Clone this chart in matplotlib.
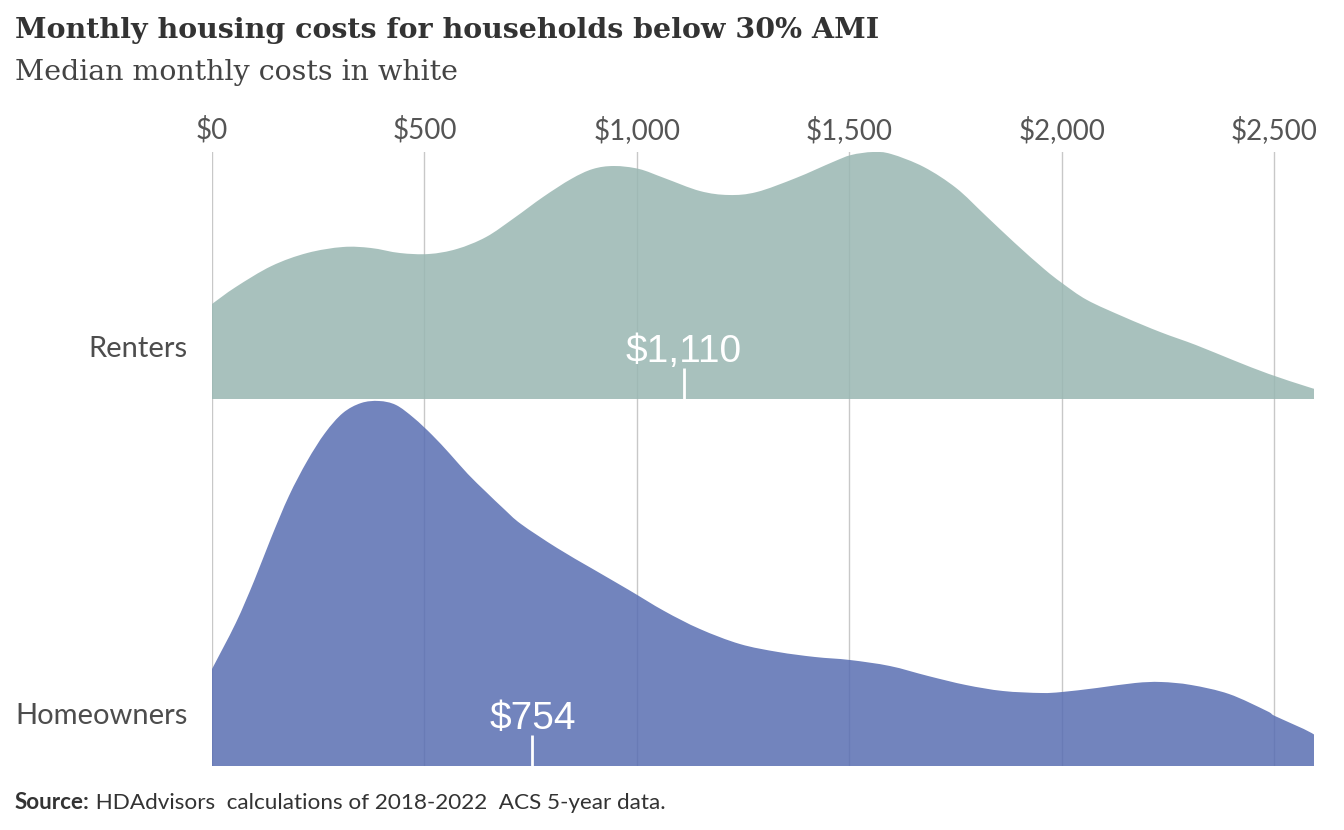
import numpy as np
import matplotlib
matplotlib.use('Agg')
import matplotlib.pyplot as plt
from matplotlib.path import Path
from matplotlib.patches import PathPatch

# 字体: 标签用 Lato
plt.rcParams['font.family'] = ['Lato', 'DejaVu Sans']

title = 'Monthly housing costs for households below 30% AMI'
subtitle = 'Median monthly costs in white'
source = 'HDAdvisors  calculations of 2018-2022  ACS 5-year data.'

groups = ['Renters', 'Homeowners']
medians = [1110, 754]
median_labels = ['$1,110', '$754']

# density curves (height in px, ridge spacing = 367 px)
renters_cost = [0, 56, 140, 224, 308, 374, 442, 510, 576, 645, 711, 779, 845,
                896, 946, 1005, 1064, 1148, 1216, 1282, 1374, 1461, 1504, 1555,
                1598, 1675, 1751, 1819, 1889, 1958, 2000, 2059, 2146, 2231,
                2315, 2402, 2487, 2572, 2595]
renters_height = [95, 112, 133, 146, 152, 151, 146, 145, 150, 162, 181, 202,
                  220, 230, 233, 230, 221, 208, 204, 207, 221, 237, 244, 247,
                  245, 232, 211, 184, 156, 130, 116, 99, 82, 67, 54, 39, 25,
                  13, 10]

owners_cost = [0, 56, 99, 139, 181, 224, 266, 308, 351, 393, 433, 475, 518,
               560, 602, 645, 687, 727, 812, 896, 981, 1064, 1148, 1242, 1332,
               1419, 1501, 1595, 1685, 1774, 1861, 1951, 2000, 2082, 2172,
               2233, 2304, 2393, 2482, 2501, 2569, 2595]
owners_height = [97, 143, 185, 228, 270, 305, 333, 353, 363, 365, 361, 348,
                 331, 312, 292, 274, 257, 242, 218, 197, 176, 155, 137, 122,
                 114, 109, 106, 100, 90, 81, 75, 73, 74, 78, 83, 84, 81, 72,
                 55, 50, 37, 31]

x_ticks = [0, 500, 1000, 1500, 2000, 2500]
x_tick_labels = ['$0', '$500', '$1,000', '$1,500', '$2,000', '$2,500']

# fill colours are drawn at alpha 0.85 so the grid shows through a little
colors = ['#99b7b2', '#596eb2']
fill_alpha = 0.85
spacing = 367.0
baselines = [1.0, 0.0]


def ridge_path(xs, ys, base):
    # smooth outline: catmull-rom through the points, drawn as bezier curves
    pts = np.column_stack([xs, ys])
    ext = np.vstack([pts[0], pts, pts[-1]])
    verts = [(xs[0], base), tuple(pts[0])]
    codes = [Path.MOVETO, Path.LINETO]
    for k in range(1, len(ext) - 2):
        p0, p1, p2, p3 = ext[k - 1], ext[k], ext[k + 1], ext[k + 2]
        c1 = p1 + (p2 - p0) / 6.0
        c2 = p2 - (p3 - p1) / 6.0
        verts += [tuple(c1), tuple(c2), tuple(p2)]
        codes += [Path.CURVE4] * 3
    verts += [(xs[-1], base), (xs[0], base)]
    codes += [Path.LINETO, Path.CLOSEPOLY]
    return Path(verts, codes)


fig = plt.figure(figsize=(13.44, 8.30), dpi=100)
ax = fig.add_axes([212 / 1344, 64 / 830, 1102 / 1344, 614 / 830])

curves = [(renters_cost, renters_height), (owners_cost, owners_height)]
for i, (cost, h) in enumerate(curves):
    base = baselines[i]
    y = base + np.array(h) / spacing
    ax.add_patch(PathPatch(ridge_path(np.array(cost, float), y, base),
                           facecolor=colors[i], alpha=fill_alpha, lw=0,
                           zorder=1))
    # 中位数
    ax.plot([medians[i], medians[i]], [base, base + 0.085], color='white',
            lw=2, solid_capstyle='butt', zorder=3)
    ax.text(medians[i], base + 0.10, median_labels[i], ha='center',
            va='baseline', color='white', fontsize=28,
            family='Liberation Sans', zorder=3)
    ax.text(-0.022, base + 0.135, groups[i], transform=ax.get_yaxis_transform(),
            ha='right', va='center', fontsize=21, color='#4d4d4d')

ax.set_xlim(0, 2593)
ax.set_ylim(0, 614 / spacing)
ax.set_xticks(x_ticks)
ax.set_xticklabels(x_tick_labels)
ax.xaxis.tick_top()
ax.tick_params(axis='x', length=0, pad=6, labelsize=20, labelcolor='#555555')
ax.set_yticks([])
for s in ax.spines.values():
    s.set_visible(False)
ax.set_axisbelow(True)
ax.grid(axis='x', color='#c8c8c8', lw=1)

fig.text(15 / 1344, 1 - 38 / 830, title, fontsize=20.5, weight='bold',
         family='DejaVu Serif', color='#333333', va='baseline')
fig.text(15 / 1344, 1 - 80 / 830, subtitle, fontsize=20.5,
         family='DejaVu Serif', color='#444444', va='baseline')

src = fig.text(15 / 1344, 1 - 809 / 830, 'Source:', fontsize=16.2,
               weight='bold', color='#333333', va='baseline')
fig.canvas.draw()
ax.annotate(' ' + source, xy=(1, 0), xycoords=src, fontsize=16.2,
            color='#333333', va='bottom', ha='left', annotation_clip=False)

fig.savefig('out.png', dpi=100)
